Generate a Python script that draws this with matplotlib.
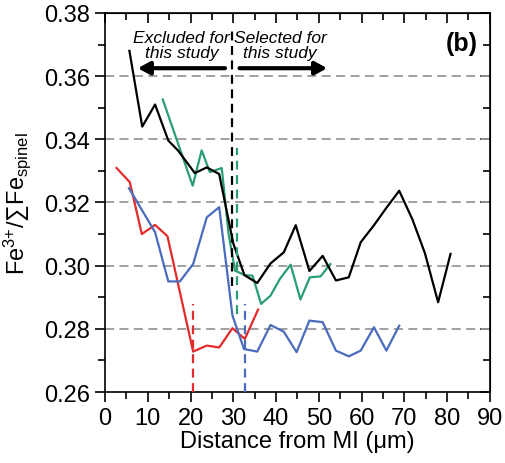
import matplotlib.pyplot as plt

plt.rcParams['font.family'] = ['Liberation Sans', 'DejaVu Sans']
plt.rcParams['mathtext.fontset'] = 'custom'
plt.rcParams['mathtext.rm'] = 'Liberation Sans'
plt.rcParams['mathtext.it'] = 'Liberation Sans:italic'
plt.rcParams['mathtext.bf'] = 'Liberation Sans:bold'

# Fe3+/sum Fe profiles along the spinel traverses
black_x = [5.7, 8.7, 11.7, 14.8, 17.1, 21.0, 23.8, 26.7, 30.0, 32.6, 35.6, 38.7, 41.8,
           44.6, 47.8, 50.9, 54.0, 57.0, 59.8, 62.9, 65.8, 68.8, 71.9, 74.8, 77.9, 80.8]
black_y = [0.368, 0.344, 0.351, 0.3396, 0.3364, 0.3293, 0.3311, 0.329, 0.307, 0.297,
           0.2945, 0.3007, 0.3042, 0.3128, 0.2983, 0.3031, 0.2953, 0.2963, 0.3074,
           0.3128, 0.3183, 0.3237, 0.3146, 0.304, 0.2884, 0.3037]

green_x = [13.5, 20.5, 22.6, 24.5, 27.3, 28.9, 30.4, 32.7, 34.5, 36.5, 38.7, 40.9,
           43.4, 45.7, 47.9, 50.4, 52.7]
green_y = [0.3526, 0.3253, 0.3365, 0.3296, 0.3309, 0.310, 0.2984, 0.297, 0.2968,
           0.2879, 0.2905, 0.2958, 0.3003, 0.2893, 0.2963, 0.2966, 0.3005]

red_x = [2.7, 5.8, 8.6, 11.7, 14.6, 20.6, 23.8, 26.7, 29.8, 32.7, 35.8]
red_y = [0.3309, 0.3264, 0.310, 0.3129, 0.3093, 0.2728, 0.2747, 0.2741, 0.2802,
         0.2768, 0.2861]

blue_x = [5.6, 11.7, 14.8, 17.5, 20.6, 23.8, 26.7, 29.8, 32.5, 35.6, 38.7, 41.8,
          44.8, 47.8, 50.9, 54.0, 57.0, 59.8, 62.9, 65.8, 68.8]
blue_y = [0.3245, 0.3106, 0.295, 0.295, 0.3005, 0.3153, 0.3185, 0.2842, 0.2736,
          0.2728, 0.2812, 0.2791, 0.2726, 0.2826, 0.2821, 0.2731, 0.2713, 0.2731,
          0.2805, 0.2731, 0.281]

# cut-off distances (x, y_bottom, y_top) marked by vertical dashed lines
cutoffs = {
    'black': (29.8, 0.2936, 0.3749),
    'green': (30.8, 0.2847, 0.3372),
    'red': (20.6, 0.26, 0.2879),
    'blue': (32.7, 0.26, 0.2879),
}

colors = {'black': 'black', 'green': '#2a9e72', 'red': '#e32b2b', 'blue': '#4a6cbc'}

fig = plt.figure(figsize=(5.05, 4.64), dpi=100)
ax = fig.add_axes([0.208, 0.153, 0.762, 0.817])

for yv in [0.28, 0.30, 0.32, 0.34, 0.36]:
    ax.axhline(yv, color='#999999', lw=1.3, ls=(0, (5, 3)), zorder=1)

ax.plot(red_x, red_y, color=colors['red'], lw=1.6, zorder=3)
ax.plot(blue_x, blue_y, color=colors['blue'], lw=1.6, zorder=3)
ax.plot(green_x, green_y, color=colors['green'], lw=1.6, zorder=3)
ax.plot(black_x, black_y, color=colors['black'], lw=1.6, zorder=4)

for name, (xc, y0, y1) in cutoffs.items():
    ax.plot([xc, xc], [y0, y1], color=colors[name], lw=1.6, ls=(0, (4, 2.5)), zorder=5)

# selection annotations
ax.text(17.9, 0.3698, 'Excluded for\nthis study', style='italic', fontsize=12.5,
        ha='center', va='center', linespacing=0.95)
ax.text(40.9, 0.3698, 'Selected for\nthis study', style='italic', fontsize=12.5,
        ha='center', va='center', linespacing=0.95)
ax.annotate('', xy=(7.0, 0.3625), xytext=(28.7, 0.3625),
            arrowprops=dict(arrowstyle='-|>,head_length=0.7,head_width=0.38', lw=3, color='black'))
ax.annotate('', xy=(52.6, 0.3625), xytext=(30.8, 0.3625),
            arrowprops=dict(arrowstyle='-|>,head_length=0.7,head_width=0.38', lw=3, color='black'))
ax.text(83.5, 0.3705, '(b)', fontsize=18, fontweight='bold', ha='center', va='center')

ax.set_xlim(0, 90)
ax.set_ylim(0.26, 0.38)
ax.set_xticks(range(0, 91, 10))
ax.set_xticks(range(5, 90, 10), minor=True)
ax.set_yticks([0.26, 0.28, 0.30, 0.32, 0.34, 0.36, 0.38])
ax.set_yticks([0.27, 0.29, 0.31, 0.33, 0.35, 0.37], minor=True)
ax.yaxis.set_major_formatter(plt.FormatStrFormatter('%.2f'))
ax.tick_params(which='both', direction='out', labelsize=17, width=1.2)
ax.tick_params(which='major', length=7)
ax.tick_params(which='minor', length=5)
for s in ax.spines.values():
    s.set_linewidth(1.2)

# mirrored ticks on top and right, pointing into the plot
top = ax.secondary_xaxis('top')
top.set_xticks(range(0, 91, 10))
top.set_xticks(range(5, 90, 10), minor=True)
top.tick_params(which='both', direction='in', labeltop=False, width=1.2)
top.tick_params(which='major', length=7)
top.tick_params(which='minor', length=5)
right = ax.secondary_yaxis('right')
right.set_yticks([0.26, 0.28, 0.30, 0.32, 0.34, 0.36, 0.38])
right.set_yticks([0.27, 0.29, 0.31, 0.33, 0.35, 0.37], minor=True)
right.tick_params(which='both', direction='in', labelright=False, width=1.2)
right.tick_params(which='major', length=7)
right.tick_params(which='minor', length=5)

ax.set_xlabel('Distance from MI (μm)', fontsize=17, labelpad=1)
ax.set_ylabel('Fe$^{3{+}}$/∑Fe$_{\\mathregular{spinel}}$', fontsize=17, labelpad=8)

fig.savefig('out.png', dpi=100)
